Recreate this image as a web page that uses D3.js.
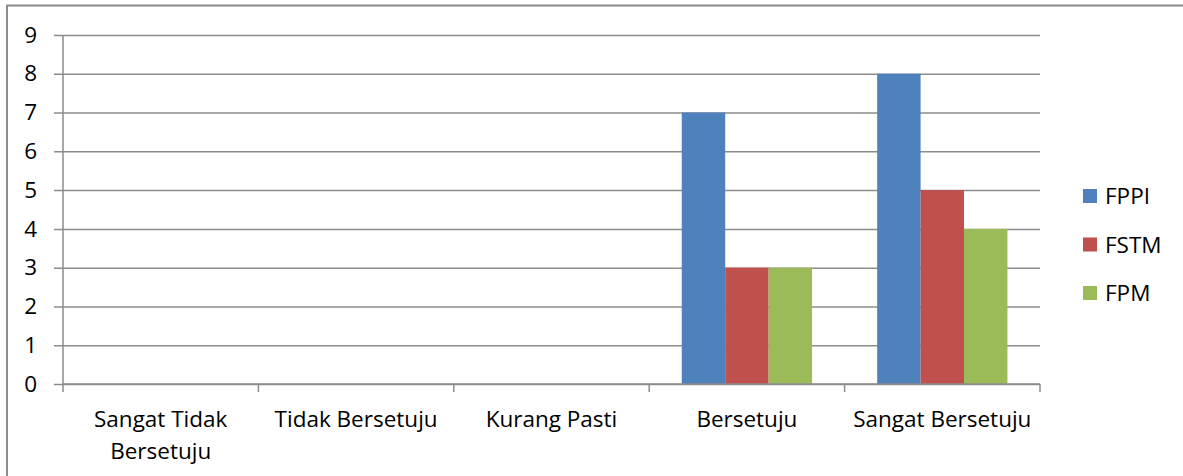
<!DOCTYPE html>
<html>
<head>
<meta charset="utf-8">
<script src="https://cdn.jsdelivr.net/npm/d3@7"></script>
<style>
  body { margin: 0; background: #fff; }
  svg text { font-family: "Open Sans", Lato, sans-serif; fill: #000; }
</style>
</head>
<body>
<div id="chart"></div>
<script>
(() => {
  const categories = ['Sangat Tidak Bersetuju', 'Tidak Bersetuju', 'Kurang Pasti', 'Bersetuju', 'Sangat Bersetuju']
  const series = ['FPPI', 'FSTM', 'FPM']
  const fppi = [0, 0, 0, 7, 8]
  const fstm = [0, 0, 0, 3, 5]
  const fpm = [0, 0, 0, 3, 4]
  const yTicks = [0, 1, 2, 3, 4, 5, 6, 7, 8, 9]
  const colors = ['#4F81BD', '#C0504D', '#9BBB59']

  const values = [fppi, fstm, fpm]
  const rows = categories.map((c, i) => ({
    cat: c,
    vals: series.map((s, j) => ({ key: s, value: values[j][i], color: colors[j] }))
  }))

  const W = 1183, H = 476
  const left = 63, right = 1040, top = 35, bottom = 384
  const fontSize = 22.5
  const gridColor = '#8c8c8c'

  const svg = d3.select('#chart').append('svg')
    .attr('width', W)
    .attr('height', H)

  // outer frame (right and bottom edges fall outside the picture)
  svg.append('rect')
    .attr('x', 7).attr('y', 5.5)
    .attr('width', W).attr('height', H)
    .attr('fill', 'none')
    .attr('stroke', gridColor)
    .attr('stroke-width', 2)

  const x0 = d3.scaleBand().domain(categories).range([left, right]).padding(0)
  const x1 = d3.scaleBand().domain(series).range([0, x0.bandwidth()])
    .paddingInner(0).paddingOuter(0.75)
  const y = d3.scaleLinear().domain([0, 9]).range([bottom, top])

  // gridlines + y labels
  const yAxis = svg.append('g').attr('transform', `translate(${left},0)`)
    .call(d3.axisLeft(y).tickValues(yTicks).tickSize(-(right - left)).tickPadding(26).tickFormat(d3.format('d')))
  yAxis.select('.domain').remove()
  yAxis.selectAll('.tick line')
    .attr('x1', -9)
    .attr('stroke', gridColor)
    .attr('stroke-width', 1.5)
  yAxis.selectAll('.tick text')
    .style('font-size', fontSize + 'px')
    .attr('fill', '#000')

  svg.append('line')
    .attr('x1', left).attr('x2', left)
    .attr('y1', top).attr('y2', bottom)
    .attr('stroke', gridColor).attr('stroke-width', 1.5)

  // bars
  const groups = svg.append('g').selectAll('g')
    .data(rows)
    .join('g')
    .attr('transform', d => `translate(${x0(d.cat)},0)`)
  groups.selectAll('rect')
    .data(d => d.vals)
    .join('rect')
    .attr('x', d => x1(d.key))
    .attr('y', d => y(d.value))
    .attr('width', x1.bandwidth())
    .attr('height', d => bottom - y(d.value))
    .attr('fill', d => d.color)

  // x axis
  const xAxis = svg.append('g')
    .attr('transform', `translate(0,${bottom})`)
  xAxis.append('line')
    .attr('x1', left).attr('x2', right)
    .attr('stroke', gridColor).attr('stroke-width', 1.5)
  const edges = categories.map(c => x0(c)).concat([right])
  xAxis.selectAll('.edge')
    .data(edges)
    .join('line')
    .attr('class', 'edge')
    .attr('x1', d => d).attr('x2', d => d)
    .attr('y1', 0).attr('y2', 8)
    .attr('stroke', gridColor).attr('stroke-width', 1.5)

  const labels = xAxis.selectAll('.lab')
    .data(categories)
    .join('text')
    .attr('class', 'lab')
    .attr('text-anchor', 'middle')
    .attr('x', d => x0(d) + x0.bandwidth() / 2)
    .attr('y', 43)
    .style('font-size', fontSize + 'px')
    .text(d => d)

  // wrap labels that do not fit in the band
  labels.each(function (d) {
    const t = d3.select(this)
    if (this.getComputedTextLength() <= x0.bandwidth() - 4) return
    const words = d.split(' ')
    t.text(null)
    let line = []
    let tspan = t.append('tspan').attr('x', t.attr('x'))
    words.forEach(w => {
      line.push(w)
      tspan.text(line.join(' '))
      if (tspan.node().getComputedTextLength() > x0.bandwidth() - 4 && line.length > 1) {
        line.pop()
        tspan.text(line.join(' '))
        line = [w]
        tspan = t.append('tspan').attr('x', t.attr('x')).attr('dy', 32).text(w)
      }
    })
  })

  // legend
  const legend = svg.append('g').attr('transform', 'translate(1083,189)')
  const item = legend.selectAll('g')
    .data(series)
    .join('g')
    .attr('transform', (d, i) => `translate(0,${i * 48.5})`)
  item.append('rect')
    .attr('width', 14).attr('height', 14)
    .attr('fill', (d, i) => colors[i])
  item.append('text')
    .attr('x', 22).attr('y', 15)
    .style('font-size', fontSize + 'px')
    .text(d => d)
})()
</script>
</body>
</html>
